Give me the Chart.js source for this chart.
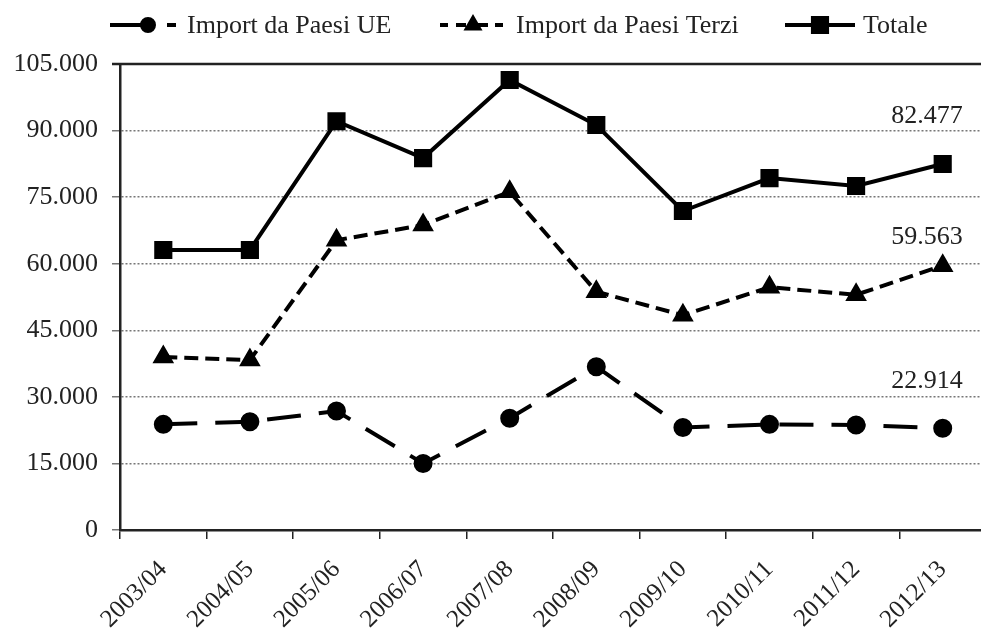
<!DOCTYPE html>
<html>
<head>
<meta charset="utf-8">
<script src="https://cdn.jsdelivr.net/npm/chart.js@4/dist/chart.umd.min.js"></script>
<style>
  html, body { margin: 0; padding: 0; background: #fff; overflow: hidden; }
  #box { position: relative; width: 1000px; height: 634px; }
</style>
</head>
<body>
<div id="box"><canvas id="grafico"></canvas></div>
<script>
// dati
var anni = ['2003/04', '2004/05', '2005/06', '2006/07', '2007/08', '2008/09', '2009/10', '2010/11', '2011/12', '2012/13'];
var importUE = [23800, 24400, 26800, 15000, 25200, 36800, 23100, 23800, 23650, 22914];
var importTerzi = [39000, 38300, 65300, 68700, 76200, 53700, 48400, 54700, 53000, 59563];
var totale = [63100, 63100, 92100, 83800, 101400, 91250, 71870, 79300, 77500, 82477];
var etichetteFinali = ['22.914', '59.563', '82.477'];

var fontSerif = '"Liberation Serif", "Times New Roman", serif';

function formattaPunti(v) {
  var s = String(Math.round(v));
  return s.replace(/\B(?=(\d{3})+(?!\d))/g, '.');
}

function segmento(ctx, x1, x2, y) {
  ctx.beginPath(); ctx.moveTo(x1, y); ctx.lineTo(x2, y); ctx.stroke();
}

// legenda disegnata a mano: linea + marker + testo
var legendaPlugin = {
  id: 'legenda',
  afterDraw: function (chart) {
    var ctx = chart.ctx;
    var y = 25;
    var ds = chart.data.datasets;
    ctx.save();
    ctx.font = '26px ' + fontSerif;
    ctx.textBaseline = 'middle';
    ctx.strokeStyle = '#000';
    ctx.fillStyle = '#000';
    ctx.lineWidth = 4;

    // Import da Paesi UE
    segmento(ctx, 110, 146, y);
    segmento(ctx, 167, 176, y);
    Chart.helpers.drawPoint(ctx, { pointStyle: 'circle', radius: 6, borderWidth: 1 }, 148, y);
    // Import da Paesi Terzi
    segmento(ctx, 440, 448, y);
    segmento(ctx, 456, 466, y);
    segmento(ctx, 478, 488, y);
    segmento(ctx, 495, 503, y);
    Chart.helpers.drawPoint(ctx, { pointStyle: 'triangle', radius: 7, borderWidth: 1 }, 473, y);
    // Totale
    segmento(ctx, 785, 855, y);
    Chart.helpers.drawPoint(ctx, { pointStyle: 'rect', radius: 10, borderWidth: 1 }, 820, y);

    ctx.fillStyle = '#222';
    ctx.fillText(ds[0].label, 187, y + 1);
    ctx.fillText(ds[1].label, 516, y + 1);
    ctx.fillText(ds[2].label, 863, y + 1);
    ctx.restore();
  }
};

// cornice superiore ed etichette dell'ultimo valore
var cornicePlugin = {
  id: 'cornice',
  afterDatasetsDraw: function (chart) {
    var ctx = chart.ctx;
    var area = chart.chartArea;
    ctx.save();
    ctx.strokeStyle = '#222';
    ctx.lineWidth = 2.5;
    ctx.beginPath();
    ctx.moveTo(area.left - 8, area.top);
    ctx.lineTo(area.right, area.top);
    ctx.stroke();

    ctx.font = '26px ' + fontSerif;
    ctx.fillStyle = '#222';
    ctx.textAlign = 'right';
    ctx.textBaseline = 'middle';
    var alzo = [47, 28, 48];
    chart.data.datasets.forEach(function (ds, i) {
      var meta = chart.getDatasetMeta(i);
      var p = meta.data[meta.data.length - 1];
      ctx.fillText(etichetteFinali[i], p.x + 20, p.y - alzo[i]);
    });
    ctx.restore();
  }
};

var ctx = document.getElementById('grafico').getContext('2d');
var miGrafico = new Chart(ctx, {
  type: 'line',
  data: {
    labels: anni,
    datasets: [{
      label: 'Import da Paesi UE',
      data: importUE,
      borderColor: '#000',
      backgroundColor: '#000',
      borderWidth: 4,
      borderDash: [34, 18],
      pointStyle: 'circle',
      pointRadius: 7.5,
      pointBackgroundColor: '#000',
      tension: 0
    }, {
      label: 'Import da Paesi Terzi',
      data: importTerzi,
      borderColor: '#000',
      backgroundColor: '#000',
      borderWidth: 4,
      borderDash: [14, 7],
      pointStyle: 'triangle',
      pointRadius: 8.5,
      pointBackgroundColor: '#000',
      tension: 0
    }, {
      label: 'Totale',
      data: totale,
      borderColor: '#000',
      backgroundColor: '#000',
      borderWidth: 4,
      pointStyle: 'rect',
      pointRadius: 10,
      pointBackgroundColor: '#000',
      tension: 0
    }]
  },
  options: {
    responsive: true,
    maintainAspectRatio: false,
    animation: false,
    layout: { padding: { top: 64, right: 5, left: 0, bottom: 0 } },
    plugins: {
      legend: { display: false },
      tooltip: { enabled: false }
    },
    scales: {
      x: {
        offset: true,
        grid: {
          offset: true,
          drawOnChartArea: false,
          color: '#222',
          lineWidth: 1.5,
          tickLength: 9
        },
        border: { color: '#222', width: 2.5 },
        ticks: {
          minRotation: 45,
          maxRotation: 45,
          color: '#222',
          padding: 16,
          font: { family: fontSerif, size: 25 }
        },
        afterFit: function (scale) { scale.height = 104; }
      },
      y: {
        min: 0,
        max: 105000,
        ticks: {
          stepSize: 15000,
          color: '#222',
          padding: 14,
          font: { family: fontSerif, size: 26 },
          callback: function (v) { return formattaPunti(v); }
        },
        grid: {
          color: '#777',
          lineWidth: 1.5,
          tickLength: 8
        },
        border: { color: '#222', width: 2.5, dash: [2, 2] },
        afterFit: function (scale) { scale.width = 120; }
      }
    }
  },
  plugins: [legendaPlugin, cornicePlugin]
});
</script>
</body>
</html>
